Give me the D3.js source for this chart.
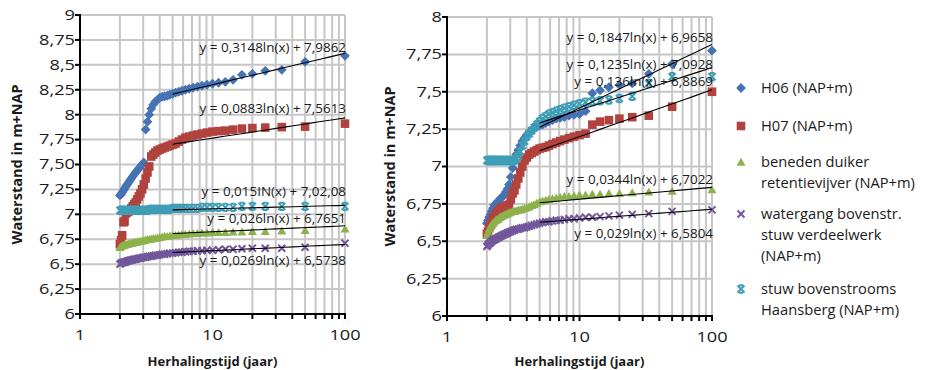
<!DOCTYPE html>
<html><head><meta charset="utf-8">
<script src="https://cdn.jsdelivr.net/npm/d3@7"></script>
<style>body{margin:0;background:#fff} svg{display:block}</style>
</head><body>
<svg id="c" width="933" height="370"></svg>
<script>
// ---------- DATA ----------
const returnPeriods = [100, 50, 33.33, 25, 20, 16.67, 14.29, 12.5, 11.11, 10,
  9.09, 8.33, 7.69, 7.14, 6.67, 6.25, 5.88, 5.56, 5.26, 5,
  4.76, 4.55, 4.35, 4.17, 4, 3.85, 3.7, 3.57, 3.45, 3.33,
  3.23, 3.13, 3.03, 2.94, 2.86, 2.78, 2.7, 2.63, 2.56, 2.5,
  2.44, 2.38, 2.33, 2.27, 2.22, 2.17, 2.13, 2.08, 2.04, 2];

const seriesNames = ["H06 (NAP+m)", "H07 (NAP+m)", "beneden duiker retentievijver (NAP+m)",
  "watergang bovenstr. stuw verdeelwerk (NAP+m)", "stuw bovenstrooms Haansberg (NAP+m)"];

// left chart
const leftH06 = [8.59, 8.53, 8.45, 8.44, 8.41, 8.40, 8.35, 8.33, 8.32, 8.31,
  8.30, 8.29, 8.28, 8.27, 8.26, 8.25, 8.24, 8.23, 8.22, 8.21,
  8.20, 8.19, 8.185, 8.18, 8.17, 8.15, 8.13, 8.10, 8.06, 8.00,
  7.93, 7.85, 7.52, 7.50, 7.48, 7.46, 7.44, 7.42, 7.40, 7.38,
  7.36, 7.34, 7.32, 7.30, 7.28, 7.26, 7.24, 7.22, 7.20, 7.19];
const leftH07 = [7.91, 7.88, 7.875, 7.87, 7.865, 7.86, 7.85, 7.84, 7.835, 7.83,
  7.82, 7.81, 7.80, 7.79, 7.78, 7.77, 7.75, 7.73, 7.71, 7.70,
  7.69, 7.68, 7.67, 7.66, 7.65, 7.64, 7.62, 7.60, 7.58, 7.48,
  7.42, 7.36, 7.30, 7.25, 7.21, 7.18, 7.15, 7.12, 7.10, 7.08,
  7.06, 7.04, 7.03, 7.02, 7.01, 6.93, 6.92, 6.79, 6.74, 6.70];
const leftDuiker = [6.855, 6.84, 6.835, 6.83, 6.83, 6.825, 6.825, 6.82, 6.82, 6.82,
  6.815, 6.815, 6.81, 6.81, 6.805, 6.80, 6.80, 6.795, 6.79, 6.79,
  6.785, 6.78, 6.78, 6.775, 6.77, 6.765, 6.76, 6.76, 6.755, 6.75,
  6.75, 6.745, 6.74, 6.735, 6.73, 6.73, 6.725, 6.72, 6.72, 6.715,
  6.71, 6.71, 6.705, 6.70, 6.70, 6.695, 6.69, 6.685, 6.68, 6.67];
const leftWatergang = [6.71, 6.67, 6.66, 6.66, 6.66, 6.655, 6.65, 6.65, 6.645, 6.64,
  6.64, 6.635, 6.635, 6.63, 6.63, 6.625, 6.62, 6.62, 6.615, 6.61,
  6.61, 6.605, 6.60, 6.60, 6.595, 6.59, 6.59, 6.585, 6.58, 6.58,
  6.575, 6.57, 6.57, 6.565, 6.56, 6.56, 6.555, 6.55, 6.55, 6.545,
  6.54, 6.54, 6.535, 6.53, 6.525, 6.52, 6.52, 6.515, 6.51, 6.50];
const leftHaansberg = [7.08, 7.08, 7.08, 7.08, 7.08, 7.08, 7.07, 7.07, 7.07, 7.07,
  7.07, 7.07, 7.06, 7.06, 7.06, 7.06, 7.06, 7.06, 7.06, 7.06,
  7.05, 7.05, 7.05, 7.05, 7.05, 7.05, 7.05, 7.05, 7.05, 7.05,
  7.04, 7.04, 7.04, 7.04, 7.04, 7.04, 7.04, 7.04, 7.04, 7.04,
  7.04, 7.04, 7.04, 7.04, 7.04, 7.04, 7.04, 7.04, 7.04, 7.04];

// right chart
const rightH06 = [7.775, 7.685, 7.62, 7.556, 7.545, 7.53, 7.51, 7.49, 7.37, 7.35,
  7.345, 7.34, 7.33, 7.325, 7.32, 7.31, 7.30, 7.29, 7.28, 7.275,
  7.265, 7.255, 7.245, 7.23, 7.21, 7.19, 7.17, 7.14, 7.11, 7.08,
  7.04, 6.99, 6.93, 6.88, 6.85, 6.83, 6.81, 6.80, 6.79, 6.78,
  6.77, 6.76, 6.75, 6.74, 6.72, 6.70, 6.68, 6.66, 6.64, 6.62];
const rightH07 = [7.50, 7.40, 7.34, 7.33, 7.32, 7.31, 7.30, 7.28, 7.22, 7.21,
  7.20, 7.19, 7.18, 7.17, 7.16, 7.15, 7.14, 7.13, 7.125, 7.12,
  7.11, 7.10, 7.09, 7.08, 7.06, 7.04, 7.00, 6.96, 6.92, 6.88,
  6.84, 6.82, 6.78, 6.745, 6.74, 6.735, 6.73, 6.725, 6.72, 6.71,
  6.70, 6.69, 6.68, 6.665, 6.65, 6.63, 6.61, 6.59, 6.565, 6.55];
const rightDuiker = [6.845, 6.835, 6.83, 6.825, 6.82, 6.82, 6.815, 6.815, 6.81, 6.81,
  6.805, 6.80, 6.80, 6.795, 6.79, 6.785, 6.78, 6.775, 6.77, 6.765,
  6.755, 6.745, 6.74, 6.73, 6.725, 6.72, 6.715, 6.71, 6.71, 6.705,
  6.70, 6.70, 6.695, 6.69, 6.685, 6.68, 6.675, 6.67, 6.665, 6.66,
  6.65, 6.645, 6.64, 6.63, 6.62, 6.61, 6.60, 6.585, 6.565, 6.54];
const rightWatergang = [6.71, 6.70, 6.685, 6.68, 6.675, 6.67, 6.665, 6.66, 6.66, 6.655,
  6.65, 6.65, 6.645, 6.64, 6.64, 6.635, 6.63, 6.63, 6.625, 6.62,
  6.615, 6.61, 6.605, 6.60, 6.595, 6.59, 6.59, 6.585, 6.58, 6.58,
  6.575, 6.57, 6.565, 6.56, 6.555, 6.55, 6.545, 6.54, 6.535, 6.53,
  6.525, 6.52, 6.515, 6.51, 6.505, 6.50, 6.49, 6.485, 6.475, 6.465];
const rightHaansberg = [7.60, 7.60, 7.555, 7.47, 7.455, 7.445, 7.44, 7.435, 7.43, 7.42,
  7.41, 7.40, 7.39, 7.38, 7.37, 7.36, 7.35, 7.335, 7.32, 7.30,
  7.28, 7.26, 7.24, 7.22, 7.20, 7.17, 7.14, 7.10, 7.07, 7.05,
  7.04, 7.04, 7.04, 7.04, 7.04, 7.04, 7.04, 7.04, 7.04, 7.04,
  7.04, 7.04, 7.04, 7.04, 7.04, 7.04, 7.04, 7.04, 7.04, 7.04];

// logarithmic trendlines y = a ln(x) + b, drawn from x=5 to x=100 (order: H06, H07, duiker, watergang, Haansberg)
const leftTrendA = [0.1367, 0.0883, 0.026, 0.0269, 0.015];
const leftTrendB = [7.9862, 7.5613, 6.7651, 6.5738, 7.0208];
const leftTrendLabels = ["y = 0,3148ln(x) + 7,9862", "y = 0,0883ln(x) + 7,5613",
  "y = 0,026ln(x) + 6,7651", "y = 0,0269ln(x) + 6,5738", "y = 0,015IN(x) + 7,02,08"];
const rightTrendA = [0.1847, 0.136, 0.0344, 0.029, 0.1235];
const rightTrendB = [6.9658, 6.8869, 6.7022, 6.5804, 7.0928];
const rightTrendLabels = ["y = 0,1847ln(x) + 6,9658", "y = 0,136ln(x) + 6,8869",
  "y = 0,0344ln(x) + 6,7022", "y = 0,029ln(x) + 6,5804", "y = 0,1235ln(x) + 7,0928"];
const trendRange = [5, 100];

const xTickValues = [1, 10, 100];
const xTickLabels = ["1", "10", "100"];
const leftYTickValues = [6, 6.25, 6.5, 6.75, 7, 7.25, 7.5, 7.75, 8, 8.25, 8.5, 8.75, 9];
const leftYTickLabels = ["6", "6,25", "6,5", "6,75", "7", "7,25", "7,50", "7,75", "8", "8,25", "8,5", "8,75", "9"];
const rightYTickValues = [6, 6.25, 6.5, 6.75, 7, 7.25, 7.5, 7.75, 8];
const rightYTickLabels = ["6", "6,25", "6,5", "6,75", "7", "7,25", "7,5", "7,75", "8"];
const xAxisTitle = "Herhalingstijd (jaar)";
const yAxisTitle = "Waterstand in m+NAP";

// ---------- STYLE / LAYOUT ----------
const colors = ["#4673b3", "#b2423e", "#8db24c", "#72579b", "#3f9eb6"];
const FONT = "'Open Sans', 'DejaVu Sans', sans-serif";
const svg = d3.select("#c");

const charts = [
  { left: 80, right: 345, top: 15, bottom: 314, ymin: 6, ymax: 9,
    series: [leftH06, leftH07, leftDuiker, leftWatergang, leftHaansberg],
    ta: leftTrendA, tb: leftTrendB, labels: leftTrendLabels,
    labelY: [8.669, 8.057, 6.951, 6.529, 7.228],
    yt: leftYTickValues, ytl: leftYTickLabels, ytitleX: 17 },
  { left: 447, right: 712, top: 17, bottom: 316, ymin: 6, ymax: 8,
    series: [rightH06, rightH07, rightDuiker, rightWatergang, rightHaansberg],
    ta: rightTrendA, tb: rightTrendB, labels: rightTrendLabels,
    labelY: [7.864, 7.567, 6.914, 6.553, 7.679],
    yt: rightYTickValues, ytl: rightYTickLabels, ytitleX: 390 }
];

function stext(g, x, y, s, o) {
  return g.append("text")
    .attr("transform", `translate(${x},${y}) scale(${o.sx || 1},1)`)
    .attr("text-anchor", o.anchor || "start")
    .attr("dy", o.dy || "0.35em")
    .attr("font-family", FONT)
    .attr("font-size", o.size || 12)
    .attr("font-weight", o.weight || "normal")
    .attr("fill", o.fill || "#1a1a1a")
    .text(s);
}

const markerPaths = [
  "M0,-4.9L4.9,0L0,4.9L-4.9,0Z",
  "M-4.3,-4.3L4.3,-4.3L4.3,4.3L-4.3,4.3Z",
  "M0,-4.3L4.5,3.7L-4.5,3.7Z",
  "M-3.5,-3.5L3.5,3.5M-3.5,3.5L3.5,-3.5",
  "M-3.5,-3.5L3.5,3.5M-3.5,3.5L3.5,-3.5M-2.2,-3.7L2.2,-3.7M-2.2,3.7L2.2,3.7"
];
function drawMarker(g, i, x, y) {
  const p = g.append("path").attr("d", markerPaths[i]).attr("transform", `translate(${x},${y})`);
  if (i >= 3) p.attr("fill", "none").attr("stroke", colors[i]).attr("stroke-width", 2);
  else p.attr("fill", colors[i]);
  return p;
}

const minorX = [2,3,4,5,6,7,8,9,10,20,30,40,50,60,70,80,90,100];
const allXTicks = [1].concat(minorX);

charts.forEach(c => {
  const x = d3.scaleLog().domain([1, 100]).range([c.left, c.right]);
  const y = d3.scaleLinear().domain([c.ymin, c.ymax]).range([c.bottom, c.top]);
  const g = svg.append("g");

  // gridlines
  g.selectAll(".vg").data(minorX).enter().append("line")
    .attr("x1", d => x(d)).attr("x2", d => x(d)).attr("y1", c.top).attr("y2", c.bottom)
    .attr("stroke", "#c6c6c6").attr("stroke-width", 2);
  g.selectAll(".hg").data(c.yt.filter(v => v > c.ymin)).enter().append("line")
    .attr("x1", c.left).attr("x2", c.right).attr("y1", d => y(d)).attr("y2", d => y(d))
    .attr("stroke", "#c6c6c6").attr("stroke-width", 2);

  // series (draw order: blue, red, green, purple, teal)
  c.series.forEach((vals, si) => {
    const sg = g.append("g");
    vals.forEach((v, k) => drawMarker(sg, si, x(returnPeriods[k]), y(v)));
  });

  // trendlines
  const line = d3.line().x(d => x(d[0])).y(d => y(d[1]));
  c.ta.forEach((a, i) => {
    const pts = d3.range(0, 21).map(k => {
      const xv = trendRange[0] * Math.pow(trendRange[1] / trendRange[0], k / 20);
      return [xv, a * Math.log(xv) + c.tb[i]];
    });
    g.append("path").attr("d", line(pts)).attr("fill", "none")
      .attr("stroke", "#000").attr("stroke-width", 1.1);
  });

  // trend labels
  c.labels.forEach((s, i) => {
    stext(g, c.right + 1, y(c.labelY[i]), s, { anchor: "end", size: 12, sx: 1.12 });
  });

  // axes
  g.append("line").attr("x1", c.left).attr("x2", c.left).attr("y1", c.top - 1).attr("y2", c.bottom + 1)
    .attr("stroke", "#000").attr("stroke-width", 2);
  g.append("line").attr("x1", c.left - 1).attr("x2", c.right + 1).attr("y1", c.bottom).attr("y2", c.bottom)
    .attr("stroke", "#000").attr("stroke-width", 2);
  g.selectAll(".yt").data(c.yt).enter().append("line")
    .attr("x1", c.left - 5).attr("x2", c.left).attr("y1", d => y(d)).attr("y2", d => y(d))
    .attr("stroke", "#000").attr("stroke-width", 2);
  g.selectAll(".xt").data(allXTicks).enter().append("line")
    .attr("x1", d => x(d)).attr("x2", d => x(d)).attr("y1", c.bottom).attr("y2", c.bottom + 5)
    .attr("stroke", "#000").attr("stroke-width", 2);

  c.yt.forEach((v, i) => stext(g, c.left - 5, y(v), c.ytl[i], { anchor: "end", size: 14, sx: 1.3 }));
  xTickValues.forEach((v, i) => stext(g, x(v), c.bottom + 21, xTickLabels[i], { anchor: "middle", size: 14, sx: 1.3 }));

  stext(g, (c.left + c.right) / 2, 361, xAxisTitle, { anchor: "middle", size: 13, weight: "bold" });
  g.append("text")
    .attr("transform", `translate(${c.ytitleX},${(c.top + c.bottom) / 2}) rotate(-90)`)
    .attr("text-anchor", "middle").attr("dy", "0.35em")
    .attr("font-family", FONT).attr("font-size", 14.5).attr("font-weight", "bold")
    .attr("fill", "#1a1a1a").text(yAxisTitle);
});

// legend
const legendLines = [["H06 (NAP+m)"], ["H07 (NAP+m)"], ["beneden duiker", "retentievijver (NAP+m)"],
  ["watergang bovenstr.", "stuw verdeelwerk", "(NAP+m)"], ["stuw bovenstrooms", "Haansberg (NAP+m)"]];
const legendY = [88, 126, 162, 214, 289];
const lg = svg.append("g");
legendLines.forEach((lines, i) => {
  drawMarker(lg, i, 741, legendY[i]);
  lines.forEach((t, j) => stext(lg, 761, legendY[i] + j * 21, t, { size: 14, sx: 1.05 }));
});
</script>
</body></html>
